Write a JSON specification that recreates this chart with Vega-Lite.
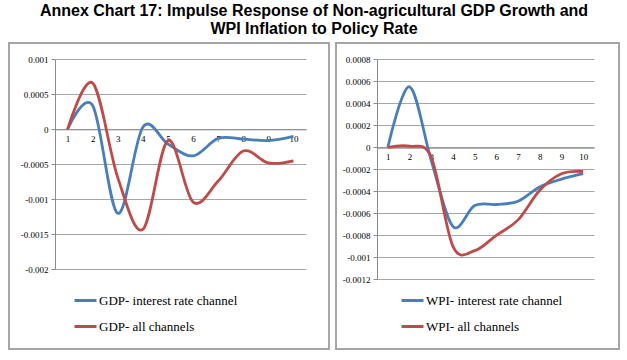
{
  "$schema": "https://vega.github.io/schema/vega-lite/v6.json",
  "padding": {"left": 8, "top": 3, "right": 5, "bottom": 5},
  "background": "white",
  "title": {
    "text": ["Annex Chart 17: Impulse Response of Non-agricultural GDP Growth and", "WPI Inflation to Policy Rate"],
    "font": "Liberation Sans", "fontSize": 16, "fontWeight": "bold", "lineHeight": 18,
    "anchor": "middle", "offset": 5, "color": "#000000"
  },
  "datasets": {
    "gdp": [
      {"period": 1, "series": "GDP- interest rate channel", "value": 0},
      {"period": 2, "series": "GDP- interest rate channel", "value": 0.00034},
      {"period": 3, "series": "GDP- interest rate channel", "value": -0.0012},
      {"period": 4, "series": "GDP- interest rate channel", "value": 0.00003},
      {"period": 5, "series": "GDP- interest rate channel", "value": -0.00021},
      {"period": 6, "series": "GDP- interest rate channel", "value": -0.00038},
      {"period": 7, "series": "GDP- interest rate channel", "value": -0.00013},
      {"period": 8, "series": "GDP- interest rate channel", "value": -0.00014},
      {"period": 9, "series": "GDP- interest rate channel", "value": -0.00016},
      {"period": 10, "series": "GDP- interest rate channel", "value": -0.0001},
      {"period": 1, "series": "GDP- all channels", "value": 0},
      {"period": 2, "series": "GDP- all channels", "value": 0.00066},
      {"period": 3, "series": "GDP- all channels", "value": -0.00069},
      {"period": 4, "series": "GDP- all channels", "value": -0.00143},
      {"period": 5, "series": "GDP- all channels", "value": -0.00016},
      {"period": 6, "series": "GDP- all channels", "value": -0.00104},
      {"period": 7, "series": "GDP- all channels", "value": -0.00074},
      {"period": 8, "series": "GDP- all channels", "value": -0.00031},
      {"period": 9, "series": "GDP- all channels", "value": -0.00048},
      {"period": 10, "series": "GDP- all channels", "value": -0.00045}
    ],
    "wpi": [
      {"period": 1, "series": "WPI- interest rate channel", "value": 0},
      {"period": 2, "series": "WPI- interest rate channel", "value": 0.00055},
      {"period": 3, "series": "WPI- interest rate channel", "value": -0.00012},
      {"period": 4, "series": "WPI- interest rate channel", "value": -0.00072},
      {"period": 5, "series": "WPI- interest rate channel", "value": -0.00053},
      {"period": 6, "series": "WPI- interest rate channel", "value": -0.00052},
      {"period": 7, "series": "WPI- interest rate channel", "value": -0.00049},
      {"period": 8, "series": "WPI- interest rate channel", "value": -0.00036},
      {"period": 9, "series": "WPI- interest rate channel", "value": -0.00029},
      {"period": 10, "series": "WPI- interest rate channel", "value": -0.00024},
      {"period": 1, "series": "WPI- all channels", "value": 0},
      {"period": 2, "series": "WPI- all channels", "value": 0.00001},
      {"period": 3, "series": "WPI- all channels", "value": -0.00009},
      {"period": 4, "series": "WPI- all channels", "value": -0.0009},
      {"period": 5, "series": "WPI- all channels", "value": -0.00094},
      {"period": 6, "series": "WPI- all channels", "value": -0.0008},
      {"period": 7, "series": "WPI- all channels", "value": -0.00066},
      {"period": 8, "series": "WPI- all channels", "value": -0.00039},
      {"period": 9, "series": "WPI- all channels", "value": -0.00024},
      {"period": 10, "series": "WPI- all channels", "value": -0.00022}
    ]
  },
  "spacing": 5,
  "resolve": {"scale": {"color": "independent"}, "legend": {"color": "independent"}},
  "hconcat": [
    {
      "width": 320,
      "height": 306,
      "data": {"name": "gdp"},
      "mark": {"type": "line", "interpolate": "cardinal", "strokeWidth": 2.8},
      "encoding": {
        "x": {
          "field": "period", "type": "quantitative",
          "scale": {"domain": [0.5, 10.5], "range": [46, 297], "nice": false, "zero": false},
          "axis": {"orient": "bottom", "offset": -219.7, "values": [1, 2, 3, 4, 5, 6, 7, 8, 9, 10], "title": null, "grid": false, "ticks": false, "labelPadding": 5, "labelOverlap": false, "labelFlush": false}
        },
        "y": {
          "field": "value", "type": "quantitative",
          "scale": {"domain": [-0.002, 0.001], "range": [226.3, 16.3], "nice": false, "zero": false},
          "axis": {"offset": -46, "values": [0.001, 0.0005, 0, -0.0005, -0.001, -0.0015, -0.002], "labelExpr": "'' + datum.value", "title": null, "grid": true}
        },
        "color": {
          "field": "series", "type": "nominal",
          "scale": {"domain": ["GDP- interest rate channel", "GDP- all channels"], "range": ["#4a7ebb", "#be4b48"]},
          "legend": {"orient": "none", "legendX": 64, "legendY": 245}
        }
      }
    },
    {
      "width": 283,
      "height": 306,
      "data": {"name": "wpi"},
      "mark": {"type": "line", "interpolate": "cardinal", "strokeWidth": 2.8},
      "encoding": {
        "x": {
          "field": "period", "type": "quantitative",
          "scale": {"domain": [0.5, 10.5], "range": [41, 258], "nice": false, "zero": false},
          "axis": {"orient": "bottom", "offset": -201.3, "values": [1, 2, 3, 4, 5, 6, 7, 8, 9, 10], "title": null, "grid": false, "ticks": false, "labelPadding": 5, "labelOverlap": false, "labelFlush": false}
        },
        "y": {
          "field": "value", "type": "quantitative",
          "scale": {"domain": [-0.0012, 0.0008], "range": [236.3, 16.3], "nice": false, "zero": false},
          "axis": {"offset": -41, "values": [0.0008, 0.0006, 0.0004, 0.0002, 0, -0.0002, -0.0004, -0.0006, -0.0008, -0.001, -0.0012], "labelExpr": "'' + datum.value", "title": null, "grid": true}
        },
        "color": {
          "field": "series", "type": "nominal",
          "scale": {"domain": ["WPI- interest rate channel", "WPI- all channels"], "range": ["#4a7ebb", "#be4b48"]},
          "legend": {"orient": "none", "legendX": 64, "legendY": 245}
        }
      }
    }
  ],
  "config": {
    "view": {"stroke": "#a6a6a6", "strokeWidth": 2},
    "axis": {
      "domainColor": "#8c8c8c", "domainWidth": 1,
      "gridColor": "#a6a6a6", "gridWidth": 1,
      "tickColor": "#8c8c8c", "tickSize": 4,
      "labelFont": "Liberation Serif", "labelFontSize": 9, "labelColor": "#000000",
      "labelFlush": false, "labelPadding": 3
    },
    "legend": {
      "title": null, "direction": "vertical",
      "symbolType": "stroke", "symbolSize": 484, "symbolStrokeWidth": 3,
      "labelFont": "Liberation Serif", "labelFontSize": 13, "labelColor": "#000000",
      "rowPadding": 6, "labelOffset": 1, "labelLimit": 300
    }
  }
}
